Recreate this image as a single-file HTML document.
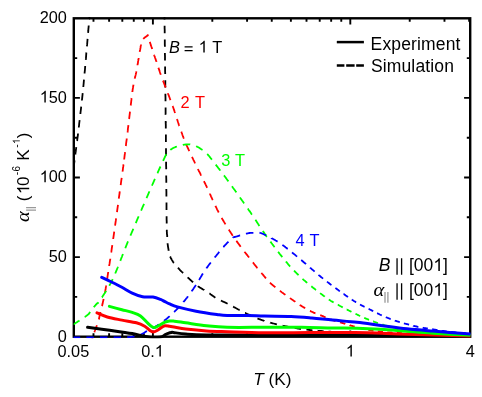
<!DOCTYPE html>
<html><head><meta charset="utf-8"><title>chart</title>
<style>html,body{margin:0;padding:0;background:#fff}svg{display:block;will-change:transform}text{font-family:"Liberation Sans",sans-serif;fill:#000}</style></head><body>
<svg width="482" height="397" viewBox="0 0 482 397">
<rect width="482" height="397" fill="#fff"/>
<defs><clipPath id="c"><rect x="73.6" y="17.1" width="396.8" height="321.2"/></clipPath></defs>
<rect x="73.80" y="18.30" width="396.40" height="318.40" fill="none" stroke="#000" stroke-width="2.40"/>
<path d="M73.80,296.90 h3.40 M470.20,296.90 h-3.40 M73.80,257.10 h6.10 M470.20,257.10 h-6.10 M73.80,217.30 h3.40 M470.20,217.30 h-3.40 M73.80,177.50 h6.10 M470.20,177.50 h-6.10 M73.80,137.70 h3.40 M470.20,137.70 h-3.40 M73.80,97.90 h6.10 M470.20,97.90 h-6.10 M73.80,58.10 h3.40 M470.20,58.10 h-3.40 M93.48,18.30 v3.40 M93.48,336.70 v-3.40 M109.11,18.30 v3.40 M109.11,336.70 v-3.40 M122.32,18.30 v3.40 M122.32,336.70 v-3.40 M133.77,18.30 v3.40 M133.77,336.70 v-3.40 M143.87,18.30 v3.40 M143.87,336.70 v-3.40 M152.90,18.30 v6.10 M152.90,336.70 v-6.10 M212.32,18.30 v3.40 M212.32,336.70 v-3.40 M247.08,18.30 v3.40 M247.08,336.70 v-3.40 M271.75,18.30 v3.40 M271.75,336.70 v-3.40 M290.88,18.30 v3.40 M290.88,336.70 v-3.40 M306.51,18.30 v3.40 M306.51,336.70 v-3.40 M319.72,18.30 v3.40 M319.72,336.70 v-3.40 M331.17,18.30 v3.40 M331.17,336.70 v-3.40 M341.27,18.30 v3.40 M341.27,336.70 v-3.40 M350.30,18.30 v6.10 M350.30,336.70 v-6.10 M409.72,18.30 v3.40 M409.72,336.70 v-3.40 M444.48,18.30 v3.40 M444.48,336.70 v-3.40 M469.15,18.30 v3.40 M469.15,336.70 v-3.40" stroke="#000" stroke-width="1.90" fill="none"/>
<g clip-path="url(#c)" fill="none" stroke-linejoin="round">
<path id="k_dash_l" d="M73.5,168.0L73.5,168.0L73.6,167.6L73.6,167.3L73.7,167.0L73.7,166.7L73.8,166.3L73.8,166.0L73.8,165.7L73.9,165.3L73.9,165.0L74.0,164.7L74.0,164.4L74.1,164.1L74.1,163.8L74.1,163.5L74.2,163.2L74.2,162.9L74.3,162.5L74.3,162.2L74.4,161.8L74.4,161.4L74.5,161.0L74.5,160.6 M75.3,154.5L75.4,153.8L75.5,152.8L75.7,151.9L75.8,150.9L75.9,149.8L76.1,148.8L76.2,147.7L76.3,147.1 M77.1,141.0L77.2,140.4L77.3,139.1L77.5,137.8L77.7,136.4L77.9,135.1L78.0,133.7L78.0,133.6 M78.8,127.5L78.9,126.5L79.1,125.0L79.2,123.5L79.4,122.0L79.6,120.5L79.7,120.1 M80.4,114.0L80.5,112.6L80.7,111.0L80.9,109.3L81.1,107.7L81.2,106.6 M81.9,100.5L82.1,98.8L82.3,96.9L82.5,95.0L82.7,93.1 M83.3,87.0L83.5,85.0L83.7,82.8L83.9,80.5L84.0,79.6 M84.6,73.4L84.6,72.9L84.9,70.2L85.1,67.5L85.2,66.0 M85.8,59.9L85.9,58.9L86.1,56.1L86.3,53.2L86.4,52.5 M86.9,46.3L87.1,44.9L87.3,42.3L87.5,39.7L87.6,38.9 M88.1,32.8L88.1,32.8L88.3,30.7L88.4,28.8L88.6,27.1L88.7,25.6L88.7,25.4 M89.2,19.2L89.3,19.1L89.3,18.7L89.3,18.3L89.3,18.0L89.4,17.8L89.4,17.6L89.4,17.5L89.4,17.4L89.4,17.4L89.4,17.3L89.4,17.3L89.4,17.4L89.4,17.4L89.4,17.3L89.4,17.3L89.4,17.3L89.4,17.2L89.4,17.0" stroke="#000" stroke-width="1.80"/>
<path id="k_dash_r" d="M164.5,17.0L164.5,17.7L164.5,18.5L164.5,19.4L164.5,19.6 M164.6,25.8L164.6,27.0L164.6,28.4L164.7,29.8L164.7,31.2L164.7,32.7L164.7,33.2 M164.8,39.4L164.8,40.8L164.8,42.6L164.8,44.4L164.9,46.2L164.9,46.8 M164.9,53.0L164.9,54.1L165.0,56.3L165.0,58.6L165.0,60.4 M165.1,66.6L165.1,68.4L165.1,71.0L165.2,73.6L165.2,74.0 M165.3,80.2L165.3,81.6L165.3,84.3L165.3,87.0L165.3,87.6 M165.4,93.8L165.4,95.1L165.5,97.7L165.5,100.3L165.5,101.2 M165.6,107.4L165.6,107.7L165.6,110.0L165.6,112.3L165.6,114.5L165.7,114.8 M165.7,121.0L165.7,122.9L165.8,124.9L165.8,126.9L165.8,128.4 M165.9,134.6L165.9,134.7L165.9,136.6L165.9,138.6L165.9,140.6L165.9,142.0 M166.0,148.2L166.0,148.8L166.0,150.9L166.0,153.1L166.1,155.3L166.1,155.6 M166.1,161.8L166.1,162.5L166.1,165.1L166.2,167.8L166.2,169.2 M166.2,175.4L166.2,176.5L166.3,179.5L166.3,182.6L166.3,182.8 M166.3,189.0L166.4,191.8L166.4,194.9L166.4,196.4 M166.5,202.6L166.5,203.9L166.5,206.8L166.5,209.5L166.5,210.0 M166.6,216.2L166.6,217.1L166.6,219.4L166.7,221.4L166.7,223.3L166.7,223.6 M166.8,229.8L166.8,230.0L166.8,230.9L166.8,231.7L166.9,232.3L166.9,232.9L166.9,233.3L166.9,233.7L166.9,234.0L167.0,234.2L167.0,234.4L167.0,234.5L167.0,234.6L167.1,234.7L167.1,234.8L167.1,234.9L167.1,235.0L167.1,235.1L167.1,235.3L167.2,235.5L167.2,235.8L167.2,236.1L167.2,236.5L167.2,236.8L167.2,237.1L167.2,237.1 M167.6,243.3L167.6,243.6L167.6,243.8L167.7,244.1L167.7,244.4L167.7,244.7L167.8,245.0L167.8,245.3L167.9,245.6L167.9,245.9L167.9,246.2L168.0,246.5L168.0,246.8L168.1,247.1L168.1,247.4L168.2,247.6L168.2,247.9L168.3,248.2L168.3,248.5L168.4,248.8L168.4,249.1L168.5,249.3L168.5,249.6L168.5,249.9L168.6,250.1L168.6,250.4L168.7,250.6L168.7,250.7 M170.1,256.6L170.1,256.6L170.3,256.9L170.4,257.2L170.5,257.4L170.7,257.7L170.8,258.0L170.9,258.3L171.1,258.5L171.2,258.8L171.4,259.1L171.5,259.3L171.7,259.6L171.9,259.8L172.0,260.1L172.2,260.4L172.3,260.6L172.5,260.9L172.6,261.1L172.8,261.3L172.9,261.6L173.1,261.8L173.2,262.0L173.4,262.2L173.5,262.4L173.7,262.7L173.8,262.9L173.9,263.0 M178.0,267.7L178.1,267.8L178.2,268.0L178.3,268.2L178.5,268.3L178.6,268.5L178.8,268.7L179.0,268.9L179.2,269.1L179.4,269.3L179.6,269.6L179.8,269.8L180.1,270.1L180.3,270.4L180.6,270.7L181.0,271.0L181.3,271.3L181.7,271.7L182.1,272.1L182.6,272.5L183.1,273.0L183.1,273.0 M187.6,277.3L187.8,277.5L188.5,278.1L189.2,278.7L189.8,279.4L190.5,280.0L191.2,280.6L191.8,281.2L192.5,281.8L193.1,282.3 M197.9,286.1L198.2,286.4L198.7,286.7L199.2,287.1L199.7,287.4L200.2,287.7L200.7,288.0L201.2,288.3L201.6,288.6L202.1,288.9L202.6,289.1L203.0,289.4L203.5,289.7L204.0,289.9L204.2,290.1 M209.4,293.4L209.6,293.5L210.0,293.8L210.4,294.1L210.7,294.4L211.1,294.7L211.5,294.9L211.9,295.2L212.3,295.5L212.6,295.8L213.0,296.0L213.4,296.3L213.8,296.6L214.2,296.8L214.5,297.1L214.9,297.4L215.3,297.6L215.4,297.7 M220.9,300.6L221.1,300.7L221.5,300.8L221.9,301.0L222.3,301.2L222.7,301.4L223.1,301.6L223.6,301.8L224.0,302.0L224.5,302.2L225.0,302.4L225.5,302.7L226.0,302.9L226.6,303.2L227.2,303.5L227.6,303.7 M233.1,306.6L233.7,306.9L234.5,307.4L235.3,307.8L236.2,308.3L237.0,308.7L237.9,309.2L238.7,309.6L239.5,310.1L239.6,310.1 M245.1,312.9L245.2,312.9L245.9,313.3L246.6,313.6L247.3,314.0L248.0,314.3L248.7,314.6L249.4,314.9L250.1,315.2L250.7,315.6L251.4,315.8L251.8,316.0 M257.5,318.4L257.9,318.6L258.6,318.8L259.3,319.1L260.0,319.3L260.7,319.6L261.4,319.8L262.1,320.1L262.8,320.3L263.6,320.6L264.3,320.8L264.4,320.9 M270.2,322.6L270.3,322.7L271.1,322.9L271.9,323.1L272.7,323.3L273.5,323.5L274.2,323.7L275.0,323.9L275.8,324.1L276.6,324.3L276.9,324.4 M282.6,325.7L283.2,325.8L284.0,326.0L284.9,326.2L285.7,326.4L286.6,326.5L287.5,326.7L288.3,326.9L289.1,327.0 M294.7,328.0L295.4,328.1L296.3,328.2L297.1,328.4L298.0,328.5L298.9,328.6L299.8,328.8L300.6,328.9L301.0,328.9 M306.4,329.6L306.5,329.6L307.3,329.7L308.1,329.8L308.9,329.9L309.7,330.0L310.5,330.1L311.3,330.2L312.2,330.3L312.5,330.3 M317.6,330.7L318.3,330.8L319.2,330.9L320.2,330.9L321.2,331.0L322.2,331.1L323.2,331.2L323.6,331.2 M328.5,331.6L329.4,331.6L330.5,331.7L331.5,331.8L332.6,331.8L333.7,331.9L334.2,331.9 M338.9,332.2L339.6,332.2L340.9,332.3L342.2,332.4L343.5,332.5L344.4,332.5 M349.0,332.7L349.4,332.7L351.0,332.8L352.6,332.9L354.2,332.9 M358.6,333.1L359.5,333.2L361.3,333.2L363.2,333.3L363.8,333.3 M368.2,333.5L368.9,333.5L370.8,333.6L372.9,333.7L373.4,333.7 M377.8,333.8L379.1,333.9L381.3,333.9L383.0,334.0 M387.4,334.1L388.0,334.2L390.3,334.2L392.6,334.3 M397.0,334.4L397.5,334.4L400.0,334.5L402.2,334.6 M406.6,334.7L408.3,334.7L411.4,334.8L411.8,334.8 M416.2,334.9L417.9,334.9L421.2,335.0L421.4,335.0 M425.8,335.1L428.1,335.1L431.0,335.2 M435.4,335.3L438.6,335.4L440.6,335.4 M445.0,335.5L445.3,335.5L448.6,335.6L450.2,335.6 M454.6,335.7L454.8,335.7L457.7,335.7L459.8,335.8 M464.2,335.9L465.4,335.9L467.5,335.9L469.4,336.0L469.4,336.0" stroke="#000" stroke-width="1.80"/>
<path id="r_dash" d="M92.3,339.0L92.3,338.9L92.4,338.7L92.4,338.5L92.5,338.3L92.6,338.1 M94.3,332.2L94.4,332.1L94.5,331.8L94.5,331.6L94.6,331.3L94.7,331.1L94.8,330.8L94.9,330.6L95.0,330.4L95.1,330.1L95.2,329.9L95.3,329.6L95.4,329.4L95.5,329.1L95.6,328.9L95.6,328.6L95.7,328.4L95.8,328.1L95.9,327.9L96.0,327.6L96.1,327.4L96.2,327.1L96.3,326.9L96.4,326.6L96.5,326.3L96.6,326.1L96.7,325.8L96.8,325.5L96.9,325.2L96.9,325.2 M98.8,319.3L98.9,319.2L98.9,319.0L99.0,318.7L99.1,318.4L99.1,318.1L99.2,317.8L99.2,317.5L99.3,317.2L99.4,317.0L99.4,316.7L99.5,316.4L99.5,316.1L99.6,315.8L99.7,315.6L99.7,315.3L99.8,315.0L99.8,314.7L99.9,314.4L99.9,314.1L100.0,313.9L100.1,313.6L100.1,313.3L100.2,313.0L100.3,312.7L100.3,312.4L100.4,312.2L100.4,312.1 M102.0,306.1L102.1,305.9L102.2,305.5L102.2,305.2L102.3,304.8L102.4,304.4L102.5,304.1L102.6,303.7L102.7,303.3L102.8,302.9L102.8,302.5L102.9,302.1L103.0,301.7L103.1,301.3L103.2,300.9L103.3,300.5L103.4,300.1L103.4,299.8L103.5,299.4L103.6,299.0L103.6,298.9 M105.0,292.9L105.0,292.8L105.1,292.0L105.3,291.1L105.4,290.1L105.6,289.0L105.8,287.7L106.0,286.4L106.1,285.5 M107.1,279.4L107.3,278.1L107.6,276.2L107.9,274.2L108.2,272.2L108.2,272.1 M109.2,266.0L109.2,265.7L109.6,263.4L109.9,261.1L110.3,258.8L110.3,258.7 M111.2,252.5L111.4,251.4L111.7,249.0L112.1,246.4L112.3,245.2 M113.2,239.1L113.2,238.8L113.6,236.2L114.0,233.3L114.2,231.7 M115.1,225.6L115.3,224.0L115.8,220.7L116.1,218.3 M117.0,212.1L117.2,210.4L117.7,206.9L118.0,204.8 M118.8,198.7L119.1,196.4L119.6,193.0L119.8,191.3 M120.7,185.2L120.9,183.4L121.3,180.4L121.7,177.9 M122.5,171.7L122.8,170.1L123.0,168.0L123.3,166.2L123.5,164.6L123.6,164.4 M124.2,159.5L124.2,159.3L124.2,158.9L124.3,158.3L124.4,157.6L124.5,156.7L124.6,155.8L124.7,154.8L124.9,153.7L125.0,152.6L125.1,152.1 M125.8,146.0L126.0,145.0L126.1,143.6L126.3,142.2L126.5,140.7L126.7,139.3L126.7,138.6 M127.5,132.5L127.6,131.9L127.8,130.4L127.9,128.9L128.1,127.4L128.3,126.0L128.4,125.2 M129.1,119.0L129.2,118.3L129.4,116.6L129.6,115.0L129.8,113.3L130.0,111.6 M130.7,105.5L130.8,104.8L131.0,103.2L131.2,101.5L131.4,99.9L131.5,98.3L131.6,98.1 M132.4,92.0L132.5,91.2L132.6,90.0L132.8,88.8L133.0,87.7L133.1,86.7L133.3,85.7L133.5,84.8L133.5,84.7 M134.7,78.6L134.8,78.2L135.0,77.6L135.1,77.0L135.3,76.4L135.4,75.9L135.5,75.3L135.7,74.7L135.8,74.2L135.9,73.6L136.1,73.0L136.2,72.4L136.3,71.8L136.4,71.4 M137.5,65.3L137.5,65.1L137.6,64.5L137.7,64.0L137.8,63.5L137.9,63.0L138.0,62.5L138.0,61.9L138.1,61.4L138.2,60.9L138.3,60.3L138.4,59.8L138.5,59.3L138.6,58.7L138.7,58.1L138.7,58.0 M139.7,51.9L139.8,51.3L139.9,50.6L140.1,50.0L140.2,49.4L140.3,48.8L140.4,48.2L140.5,47.7L140.6,47.1L140.6,46.6L140.7,46.1L140.8,45.7L140.9,45.2L141.0,44.8L141.0,44.6 M143.2,38.9L143.3,38.8L143.5,38.6L143.7,38.4L144.0,38.2L144.2,38.0L144.4,37.8L144.7,37.6L144.9,37.4L145.2,37.2L145.5,37.0L145.7,36.9L145.9,36.7L146.2,36.5L146.4,36.4L146.6,36.2L146.8,36.1L147.0,35.9L147.2,35.8L147.3,35.7L147.5,35.6L147.6,35.5L147.7,35.4L147.8,35.3L147.8,35.3L147.9,35.2L147.9,35.2L147.9,35.1L147.9,35.1L147.9,35.1L147.9,35.1L147.9,35.1L147.9,35.1L147.8,35.1L147.8,35.1L147.8,35.1L147.7,35.1L147.7,35.1L147.7,35.2L147.6,35.2L147.6,35.2L147.6,35.3L147.6,35.3L147.6,35.4L147.6,35.4L147.6,35.5L147.6,35.6L147.7,35.6L147.7,35.7L147.7,35.8L147.8,35.9L147.8,36.0L147.8,36.1 M149.8,41.9L149.9,42.1L150.0,42.3L150.0,42.6L150.1,42.8L150.2,43.1L150.3,43.4L150.4,43.6L150.5,43.9L150.6,44.2L150.7,44.5L150.8,44.8L150.8,45.1L150.9,45.4L151.0,45.7L151.2,46.0L151.3,46.3L151.4,46.6L151.5,47.0L151.6,47.3L151.7,47.6L151.8,48.0L152.0,48.4L152.1,48.7L152.2,49.0 M154.1,54.8L154.2,55.2L154.4,55.8L154.6,56.3L154.8,56.9L155.0,57.5L155.2,58.0L155.4,58.6L155.6,59.2L155.8,59.8L156.0,60.4L156.2,60.9L156.4,61.5L156.5,61.9 M158.4,67.7L158.5,68.1L158.7,68.6L158.9,69.1L159.1,69.7L159.3,70.2L159.4,70.7L159.6,71.2L159.8,71.8L160.0,72.3L160.1,72.8L160.3,73.4L160.5,73.9L160.7,74.4L160.8,74.8 M162.9,80.6L163.1,80.8L163.2,81.3L163.4,81.7L163.6,82.2L163.8,82.7L164.0,83.1L164.2,83.6L164.4,84.1L164.5,84.6L164.7,85.1L165.0,85.6L165.2,86.2L165.4,86.7L165.6,87.3L165.7,87.5 M167.9,93.2L167.9,93.3L168.2,94.1L168.5,94.8L168.8,95.6L169.1,96.4L169.4,97.2L169.7,98.0L170.0,98.9L170.3,99.7L170.5,100.2 M172.6,106.0L172.7,106.2L173.0,107.0L173.3,107.8L173.6,108.6L173.8,109.4L174.1,110.2L174.4,110.9L174.6,111.7L174.9,112.5L175.1,113.0 M177.0,118.9L177.2,119.6L177.5,120.4L177.7,121.2L178.0,122.0L178.2,122.7L178.5,123.5L178.7,124.3L179.0,125.0L179.2,125.8L179.3,125.9 M181.3,131.7L181.5,132.1L181.7,132.8L182.0,133.4L182.2,134.1L182.4,134.8L182.7,135.5L182.9,136.1L183.2,136.8L183.4,137.5L183.7,138.2L183.9,138.7 M186.3,144.4L186.3,144.6L186.7,145.3L187.0,146.1L187.3,146.8L187.6,147.5L188.0,148.3L188.3,149.0L188.7,149.8L189.0,150.5L189.3,151.2 M192.0,156.8L192.0,156.8L192.4,157.7L192.8,158.5L193.2,159.4L193.6,160.2L194.1,161.1L194.5,162.0L194.9,162.9L195.2,163.4 M197.9,169.0L198.2,169.7L198.7,170.7L199.3,171.7L199.8,172.7L200.3,173.7L200.8,174.8L201.2,175.6 M204.0,181.2L204.4,182.2L205.0,183.2L205.5,184.3L206.0,185.3L206.5,186.4L207.0,187.5L207.2,187.8 M209.8,193.5L210.0,194.0L210.5,195.1L211.0,196.3L211.5,197.4L212.0,198.5L212.5,199.6L212.8,200.2 M215.4,205.8L215.6,206.3L216.2,207.4L216.7,208.5L217.2,209.6L217.8,210.7L218.3,211.7L218.7,212.5 M221.7,217.9L221.7,217.9L222.3,219.0L222.9,220.0L223.5,221.0L224.0,221.9L224.6,222.9L225.2,223.9L225.4,224.3 M228.7,229.6L228.9,229.8L229.5,230.8L230.2,231.8L230.8,232.8L231.5,233.8L232.1,234.8L232.8,235.7 M236.3,240.8L236.5,241.0L237.3,242.1L238.1,243.2L238.9,244.3L239.7,245.4L240.5,246.5L240.7,246.8 M244.5,251.7L244.7,252.0L245.5,253.0L246.4,254.1L247.2,255.1L247.9,256.1L248.7,257.0L249.1,257.5 M252.9,262.4L253.3,262.9L253.8,263.6L254.3,264.3L254.8,264.9L255.3,265.5L255.8,266.1L256.3,266.7L256.7,267.2L257.1,267.8L257.5,268.1 M261.4,272.9L261.4,272.9L261.7,273.3L262.1,273.8L262.5,274.2L262.9,274.6L263.2,275.1L263.6,275.5L263.9,275.9L264.3,276.3L264.6,276.7L264.9,277.1L265.2,277.5L265.5,277.8L265.8,278.2L266.0,278.4 M270.0,282.7L270.4,283.1L270.8,283.5L271.2,283.8L271.6,284.2L272.0,284.5L272.4,284.9L272.8,285.2L273.2,285.6L273.7,285.9L274.1,286.3L274.5,286.6L275.0,287.0L275.3,287.3 M279.9,290.8L280.3,291.1L280.7,291.4L281.1,291.7L281.6,292.1L282.0,292.4L282.4,292.7L282.9,293.0L283.3,293.3L283.7,293.7L284.2,294.0L284.6,294.3L285.0,294.6L285.4,294.9 M290.0,298.1L290.2,298.3L290.7,298.6L291.1,298.9L291.5,299.2L292.0,299.5L292.4,299.8L292.8,300.1L293.3,300.4L293.7,300.7L294.1,301.0L294.6,301.3L295.0,301.6L295.3,301.9 M299.8,304.9L300.2,305.2L300.6,305.5L301.1,305.7L301.5,306.0L301.9,306.3L302.4,306.5L302.8,306.8L303.2,307.1L303.7,307.3L304.1,307.6L304.5,307.8L305.0,308.1L305.2,308.2 M309.9,310.8L310.2,310.9L310.6,311.2L311.0,311.4L311.5,311.6L311.9,311.8L312.3,312.0L312.8,312.2L313.2,312.4L313.6,312.6L314.1,312.8L314.5,312.9L314.9,313.1L315.3,313.3L315.4,313.3 M320.2,315.1L320.5,315.2L320.9,315.4L321.3,315.6L321.8,315.7L322.2,315.9L322.6,316.1L323.1,316.2L323.5,316.4L323.9,316.6L324.4,316.8L324.8,317.0L325.2,317.2L325.6,317.3 M330.2,319.2L330.4,319.3L330.9,319.5L331.3,319.6L331.7,319.8L332.2,319.9L332.6,320.1L333.0,320.3L333.5,320.4L333.9,320.5L334.3,320.7L334.8,320.8L335.2,321.0L335.5,321.1 M340.1,322.4L340.4,322.5L340.8,322.6L341.3,322.7L341.7,322.8L342.1,322.9L342.6,323.1L343.0,323.2L343.4,323.3L343.9,323.5L344.3,323.6L344.7,323.7L345.1,323.8L345.3,323.9 M349.7,325.2L349.8,325.3L350.2,325.4L350.7,325.5L351.1,325.7L351.6,325.8L352.0,325.9L352.5,326.0L352.9,326.2L353.4,326.3L353.9,326.4L354.3,326.6L354.7,326.7 M358.9,327.8L359.1,327.9L359.6,328.0L360.1,328.1L360.6,328.2L361.1,328.4L361.7,328.5L362.2,328.6L362.7,328.7L363.2,328.8L363.8,329.0L364.0,329.0 M368.3,329.8L368.7,329.9L369.3,330.0L369.9,330.1L370.4,330.2L371.0,330.3L371.6,330.4L372.2,330.5L372.8,330.6L373.4,330.7L373.5,330.7 M377.8,331.3L377.9,331.3L378.6,331.3L379.3,331.4L380.0,331.5L380.7,331.6L381.3,331.6L381.9,331.7L382.4,331.8L382.9,331.8L383.0,331.8 M387.3,332.3L387.8,332.3L388.5,332.4L389.4,332.4L390.3,332.5L391.3,332.5L392.4,332.6L392.6,332.6 M396.9,332.8L398.2,332.9L400.0,333.0L402.0,333.1L402.1,333.1 M406.5,333.3L406.9,333.3L409.7,333.4L411.7,333.5 M416.1,333.7L419.1,333.9L421.3,333.9 M425.7,334.1L426.0,334.1L429.6,334.3L430.9,334.4 M435.3,334.5L436.8,334.6L440.3,334.7L440.5,334.7 M444.9,334.9L447.3,335.0L450.1,335.1 M454.5,335.3L457.0,335.4L459.7,335.5 M464.1,335.7L465.2,335.8L467.4,335.9L469.3,335.9" stroke="#ff0000" stroke-width="1.80"/>
<path id="g_dash" d="M73.3,324.5L73.5,324.4L73.8,324.2L74.1,324.0L74.5,323.7L75.0,323.4L75.5,323.1L76.0,322.7L76.6,322.4L77.2,322.0L77.9,321.5L78.5,321.1L79.2,320.7L79.5,320.5 M84.6,317.0L85.2,316.7L85.8,316.3L86.3,315.9L86.8,315.5L87.2,315.2L87.6,314.9L87.9,314.6L88.2,314.4L88.5,314.2L88.7,313.9L88.9,313.7L89.1,313.6L89.2,313.4L89.3,313.2L89.4,313.1L89.5,312.9L89.6,312.8L89.6,312.7L89.7,312.5L89.7,312.4L89.8,312.3L89.8,312.1L89.9,312.0 M93.7,307.2L93.9,307.0L94.2,306.6L94.5,306.3L94.8,306.0L95.1,305.6L95.4,305.3L95.7,305.0L95.9,304.7L96.2,304.4L96.4,304.2L96.6,303.9L96.8,303.7L97.0,303.5L97.2,303.3L97.3,303.2L97.4,303.1L97.4,303.1L97.5,303.1L97.5,303.1L97.6,303.1L97.6,303.2L97.6,303.2L97.6,303.3L97.6,303.3L97.5,303.4L97.6,303.4L97.6,303.4L97.6,303.4L97.6,303.4L97.7,303.3L97.8,303.2L97.9,303.0L98.1,302.8L98.2,302.6L98.4,302.3 M101.9,297.2L102.0,297.2L102.5,296.4L103.0,295.7L103.6,294.9L104.1,294.0L104.7,293.2L105.3,292.2L106.0,291.3L106.1,291.0 M109.3,285.7L109.8,284.8L110.5,283.6L111.2,282.3L111.8,281.0L112.5,279.6L112.7,279.2 M115.2,273.5L115.7,272.3L116.4,270.7L117.0,269.1L117.7,267.5L118.0,266.7 M120.3,260.9L120.4,260.6L121.1,258.7L121.9,256.8L122.6,254.9L123.0,254.0 M125.3,248.2L125.9,246.6L126.8,244.4L127.7,242.1L128.0,241.4 M130.4,235.6L130.7,235.0L131.8,232.4L133.0,229.7L133.3,228.8 M135.8,223.1L136.9,220.4L138.3,217.1L138.7,216.3 M141.1,210.6L141.3,210.2L142.8,206.7L144.1,203.8 M146.5,198.2L147.5,195.9L149.0,192.4L149.5,191.4 M151.9,185.7L152.0,185.5L153.5,182.1L154.9,178.9L154.9,178.9 M157.4,173.2L157.6,172.9L158.8,170.1L160.0,167.5L160.5,166.5 M163.1,160.9L163.8,159.3L164.5,157.8L165.1,156.5L165.7,155.4L166.2,154.4L166.3,154.2 M170.3,149.9L170.4,149.8L170.8,149.6L171.2,149.3L171.7,149.0L172.2,148.6L172.7,148.3L173.3,148.0L173.9,147.7L174.5,147.5L175.1,147.2L175.7,146.9L176.4,146.7L176.9,146.5 M182.8,145.0L182.8,145.0L183.4,144.8L184.0,144.7L184.6,144.7L185.2,144.6L185.7,144.5L186.2,144.4L186.7,144.4L187.2,144.4L187.7,144.3L188.1,144.3L188.6,144.3L189.0,144.4L189.5,144.4L189.9,144.4L190.2,144.5 M196.1,146.2L196.5,146.4L197.0,146.6L197.4,146.8L197.9,147.0L198.3,147.3L198.7,147.5L199.2,147.8L199.6,148.1L200.1,148.4L200.5,148.7L201.0,149.0L201.4,149.3L201.9,149.6L202.3,149.9L202.5,150.0 M207.2,154.0L207.3,154.1L207.6,154.5L208.0,154.8L208.3,155.2L208.6,155.6L209.0,155.9L209.3,156.3L209.6,156.7L209.9,157.1L210.2,157.5L210.5,157.9L210.8,158.3L211.2,158.7L211.5,159.1L211.8,159.6L211.9,159.7 M215.7,164.6L216.1,165.1L216.5,165.7L217.0,166.3L217.4,166.8L217.9,167.4L218.3,168.0L218.8,168.6L219.3,169.2L219.7,169.8L220.2,170.4L220.2,170.5 M224.0,175.4L224.0,175.4L224.6,176.2L225.2,177.0L225.9,177.9L226.5,178.8L227.2,179.7L227.9,180.7L228.4,181.3 M232.0,186.3L232.8,187.5L233.7,188.7L234.7,190.0L235.6,191.3L236.4,192.4 M240.0,197.4L240.3,197.9L241.2,199.2L242.1,200.5L243.0,201.7L243.9,203.0L244.2,203.4 M247.8,208.5L248.0,208.8L248.7,209.9L249.4,210.9L250.2,211.9L250.9,213.0L251.5,214.0L252.0,214.6 M255.4,219.8L255.4,219.8L256.1,220.8L256.7,221.7L257.2,222.6L257.8,223.5L258.4,224.3L258.9,225.2L259.4,225.9 M262.8,230.9L263.0,231.2L263.4,231.8L263.8,232.4L264.2,232.9L264.5,233.5L264.9,234.0L265.2,234.4L265.5,234.9L265.8,235.3L266.1,235.8L266.4,236.2L266.7,236.6L266.9,236.8 M270.4,241.6L270.4,241.6L270.8,242.1L271.2,242.6L271.6,243.2L272.0,243.7L272.4,244.3L272.8,244.8L273.2,245.4L273.7,246.0L274.1,246.5L274.5,247.1L274.6,247.2 M278.1,251.8L278.5,252.3L278.9,252.9L279.4,253.4L279.8,254.0L280.3,254.6L280.7,255.1L281.1,255.6L281.6,256.2L282.0,256.7L282.3,257.1 M285.9,261.5L286.3,262.0L286.8,262.5L287.2,263.0L287.6,263.6L288.1,264.1L288.5,264.6L288.9,265.1L289.4,265.6L289.8,266.1L290.2,266.5L290.2,266.5 M294.0,270.6L294.1,270.7L294.5,271.1L294.9,271.5L295.3,272.0L295.8,272.4L296.2,272.8L296.6,273.2L297.0,273.7L297.5,274.1L297.9,274.5L298.3,274.9L298.6,275.2 M302.5,278.8L302.9,279.2L303.4,279.6L303.9,280.1L304.4,280.5L304.9,280.9L305.4,281.3L305.9,281.8L306.4,282.2L306.9,282.6L307.3,282.9 M311.3,286.2L311.7,286.5L312.2,287.0L312.8,287.4L313.3,287.9L313.9,288.3L314.5,288.8L315.1,289.2L315.6,289.7L316.1,290.0 M320.1,293.1L320.7,293.6L321.3,294.1L322.0,294.6L322.6,295.0L323.2,295.5L323.9,296.0L324.5,296.4L324.8,296.7 M328.8,299.5L329.0,299.6L329.5,300.0L330.0,300.3L330.5,300.6L330.9,300.9L331.4,301.2L331.8,301.4L332.2,301.7L332.7,301.9L333.1,302.2L333.5,302.4L333.6,302.5 M337.8,304.8L338.0,304.8L338.4,305.1L338.8,305.3L339.2,305.5L339.7,305.8L340.1,306.0L340.6,306.3L341.0,306.5L341.5,306.7L341.9,307.0L342.4,307.2L342.7,307.4 M346.7,309.5L346.8,309.5L347.2,309.7L347.6,309.9L348.0,310.1L348.4,310.3L348.8,310.5L349.2,310.7L349.6,310.9L349.9,311.1L350.3,311.2L350.6,311.4L350.9,311.6L351.3,311.7L351.5,311.8 M355.5,313.8L355.5,313.8L355.9,314.0L356.2,314.1L356.6,314.3L357.0,314.5L357.4,314.7L357.8,314.9L358.2,315.1L358.6,315.3L359.1,315.5L359.5,315.7L359.9,315.9L360.2,316.0 M364.2,317.8L364.6,318.0L365.0,318.2L365.5,318.4L366.0,318.6L366.5,318.8L367.0,319.0L367.5,319.2L368.0,319.4L368.5,319.6L369.0,319.8 M373.1,321.4L373.2,321.4L373.8,321.6L374.3,321.8L374.9,322.0L375.4,322.2L376.0,322.4L376.5,322.6L377.1,322.8L377.6,323.0L378.0,323.1 M382.2,324.5L382.4,324.6L382.9,324.7L383.4,324.9L383.8,325.0L384.3,325.2L384.7,325.3L385.2,325.5L385.6,325.6L386.1,325.7L386.6,325.9L387.1,326.0L387.2,326.0 M391.4,327.0L391.6,327.1L392.4,327.2L393.1,327.4L393.9,327.5L394.7,327.6L395.5,327.8L396.4,327.9L396.6,328.0 M400.9,328.7L401.6,328.8L402.6,328.9L403.6,329.1L404.6,329.2L405.6,329.4L406.0,329.4 M410.4,330.0L411.4,330.1L412.7,330.2L414.1,330.4L415.5,330.5L415.6,330.6 M419.9,331.0L420.0,331.0L421.7,331.2L423.5,331.3L425.1,331.5 M429.5,331.8L429.9,331.9L432.2,332.1L434.6,332.3L434.7,332.3 M439.1,332.6L439.5,332.6L442.1,332.8L444.3,333.0 M448.6,333.3L449.6,333.4L452.1,333.6L453.8,333.7 M458.2,334.0L459.1,334.1L461.3,334.3L463.3,334.4L463.4,334.4 M467.8,334.8L468.5,334.8L469.8,334.9L471.0,335.0" stroke="#00ff00" stroke-width="1.80"/>
<path id="b_dash" d="M72.8,337.3L73.1,337.3L73.8,337.3L74.6,337.3L75.5,337.3L76.4,337.3L77.4,337.3L78.5,337.3L79.6,337.3L80.2,337.3 M86.4,337.3L87.1,337.3L88.4,337.3L89.8,337.3L91.1,337.3L92.4,337.3L93.8,337.3L93.8,337.3 M100.0,337.3L101.2,337.3L102.4,337.3L103.6,337.3L104.8,337.3L106.1,337.3L107.3,337.3L107.4,337.3 M113.6,337.4L113.7,337.4L114.9,337.4L116.2,337.4L117.4,337.4L118.6,337.4L119.8,337.4L121.0,337.4L121.0,337.4 M127.2,337.2L128.0,337.2L128.8,337.1L129.6,337.1L130.3,337.0L131.0,336.9L131.7,336.8L132.4,336.7L133.0,336.7L133.5,336.6L134.1,336.5L134.5,336.4 M140.5,334.6L140.5,334.6L140.9,334.5L141.3,334.3L141.6,334.2L141.9,334.1L142.2,333.9L142.5,333.8L142.8,333.6L143.1,333.5L143.4,333.3L143.6,333.2L143.9,333.0L144.1,332.9L144.3,332.7L144.6,332.5L144.8,332.4L145.0,332.2L145.2,332.1L145.5,331.9L145.7,331.8L146.0,331.6L146.2,331.5L146.5,331.3L146.7,331.1L146.9,331.0 M152.5,328.4L152.6,328.3L152.9,328.1L153.3,327.9L153.6,327.7L154.0,327.5L154.4,327.3L154.8,327.0L155.2,326.8L155.6,326.5L156.0,326.2L156.5,326.0L156.9,325.7L157.4,325.4L157.9,325.1L158.3,324.8L158.8,324.5L158.8,324.5 M163.9,320.9L164.1,320.8L164.5,320.4L165.0,320.1L165.4,319.7L165.9,319.4L166.3,319.0L166.8,318.7L167.2,318.3L167.6,317.9L168.1,317.6L168.5,317.2L168.9,316.8L169.4,316.4L169.6,316.2 M174.1,312.0L174.5,311.6L175.0,311.1L175.4,310.7L175.8,310.3L176.3,309.8L176.7,309.4L177.1,309.0L177.6,308.5L178.0,308.1L178.4,307.6L178.8,307.2L179.3,306.7L179.3,306.7 M183.4,302.1L183.5,301.9L184.0,301.4L184.4,300.9L184.8,300.4L185.3,299.8L185.7,299.3L186.1,298.8L186.6,298.2L187.0,297.7L187.4,297.1L187.9,296.5L188.0,296.3 M191.7,291.3L191.8,291.1L192.2,290.5L192.6,289.9L193.1,289.3L193.5,288.6L193.9,288.0L194.4,287.4L194.8,286.7L195.2,286.1L195.7,285.4L195.9,285.1 M199.1,279.9L199.3,279.6L199.7,278.9L200.1,278.2L200.5,277.6L200.9,276.9L201.3,276.2L201.7,275.5L202.1,274.8L202.6,274.1L202.9,273.5 M206.4,268.4L206.5,268.2L207.1,267.4L207.7,266.6L208.3,265.7L209.0,264.8L209.7,263.9L210.4,263.0L210.8,262.5 M214.7,257.6L214.9,257.3L215.6,256.4L216.4,255.5L217.1,254.5L217.9,253.6L218.6,252.7L219.3,251.9L219.3,251.9 M223.3,247.1L223.6,246.8L224.1,246.2L224.6,245.6L225.1,245.1L225.6,244.6L226.1,244.1L226.5,243.6L226.9,243.2L227.3,242.8L227.8,242.4L228.1,242.0L228.4,241.7 M233.1,237.7L233.1,237.6L233.3,237.5L233.5,237.4L233.6,237.3L233.8,237.2L233.9,237.1L234.0,237.1L234.1,237.0L234.3,237.0L234.4,237.0L234.5,237.0L234.6,236.9L234.7,236.9L234.9,236.9L235.0,236.9L235.2,236.9L235.3,236.8L235.5,236.8L235.8,236.7L236.0,236.7L236.3,236.6L236.6,236.5L236.9,236.4L237.3,236.3L237.7,236.2L238.1,236.0L238.6,235.9L239.0,235.7L239.5,235.6L240.0,235.4L240.1,235.4 M246.0,233.8L246.3,233.7L246.7,233.6L247.2,233.5L247.6,233.4L248.0,233.3L248.4,233.2L248.7,233.2L249.1,233.1L249.4,233.0L249.7,233.0L250.0,233.0L250.3,232.9L250.6,232.9L250.9,232.9L251.2,232.8L251.5,232.8L251.7,232.8L252.0,232.8L252.3,232.8L252.5,232.8L252.8,232.8L253.1,232.8L253.3,232.8L253.4,232.8 M259.5,232.7L259.9,232.8L260.2,232.9L260.6,233.0L261.0,233.1L261.5,233.3L262.0,233.5L262.5,233.7L263.1,233.9L263.6,234.2L264.2,234.5L264.9,234.8L265.5,235.1L266.2,235.4 M271.6,238.1L271.6,238.2L272.4,238.6L273.2,239.1L274.0,239.5L274.9,240.0L275.7,240.5L276.6,241.0L277.4,241.5L277.6,241.6 M282.4,244.9L283.2,245.5L284.0,246.1L284.9,246.7L285.7,247.4L286.6,248.0L287.4,248.7L287.7,248.9 M292.1,252.4L292.7,253.0L293.6,253.7L294.5,254.4L295.4,255.2L296.2,255.9L297.1,256.6 M301.2,260.1L301.5,260.3L302.4,261.0L303.2,261.7L304.1,262.5L305.0,263.2L305.8,263.9L306.0,264.1 M310.0,267.6L310.1,267.7L311.0,268.4L311.8,269.2L312.7,269.9L313.6,270.7L314.4,271.4L314.6,271.6 M318.5,274.9L318.7,275.1L319.6,275.8L320.5,276.5L321.3,277.2L322.2,277.9L323.1,278.6L323.1,278.6 M327.0,281.6L327.6,282.1L328.5,282.8L329.4,283.5L330.3,284.2L331.2,284.9L331.5,285.1 M335.4,288.0L335.7,288.2L336.6,288.8L337.4,289.5L338.3,290.1L339.1,290.7L339.9,291.2 M343.6,294.0L343.7,294.0L344.4,294.5L345.1,295.0L345.8,295.5L346.4,295.9L347.0,296.4L347.7,296.8L348.0,297.0 M351.8,299.5L352.3,299.9L352.8,300.2L353.3,300.5L353.9,300.9L354.4,301.2L354.9,301.5L355.4,301.9L356.0,302.2L356.2,302.3 M360.0,304.5L360.4,304.7L360.8,304.9L361.3,305.2L361.7,305.4L362.1,305.6L362.6,305.8L363.0,306.0L363.4,306.3L363.9,306.5L364.3,306.7L364.6,306.8 M368.6,308.8L369.0,309.0L369.5,309.3L370.0,309.6L370.6,309.8L371.1,310.1L371.6,310.4L372.2,310.7L372.7,310.9L373.2,311.2 M377.1,313.2L377.6,313.4L378.2,313.7L378.7,314.0L379.3,314.2L379.8,314.5L380.4,314.8L380.9,315.0L381.4,315.2L381.8,315.4 M385.8,317.1L386.3,317.3L386.9,317.5L387.4,317.8L387.9,318.0L388.5,318.2L389.0,318.4L389.6,318.6L390.1,318.8L390.6,319.0L390.7,319.0 M394.8,320.5L395.0,320.6L395.5,320.8L396.1,320.9L396.6,321.1L397.2,321.3L397.7,321.5L398.2,321.6L398.8,321.8L399.3,322.0L399.8,322.1 M404.0,323.3L404.2,323.4L404.7,323.5L405.3,323.7L405.8,323.8L406.4,324.0L406.9,324.1L407.4,324.2L408.0,324.4L408.5,324.5L409.1,324.7L409.1,324.7 M413.3,325.7L413.4,325.8L413.9,325.9L414.4,326.0L415.0,326.1L415.5,326.3L416.0,326.4L416.6,326.5L417.1,326.6L417.6,326.8L418.2,326.9L418.4,326.9 M422.7,327.7L423.0,327.8L423.6,327.9L424.1,328.0L424.7,328.1L425.2,328.2L425.8,328.2L426.3,328.3L426.8,328.4L427.4,328.5L427.8,328.6 M432.2,329.2L432.3,329.2L432.8,329.3L433.3,329.4L433.8,329.5L434.3,329.6L434.8,329.6L435.3,329.7L435.8,329.8L436.2,329.9L436.7,330.0L437.1,330.0L437.3,330.1 M441.6,330.8L441.7,330.8L442.3,330.9L442.9,330.9L443.6,331.0L444.3,331.1L445.0,331.2L445.8,331.3L446.6,331.4L446.8,331.4 M451.2,331.9L451.8,331.9L453.0,332.1L454.2,332.2L455.5,332.3L456.4,332.4 M460.7,332.8L461.7,332.9L462.9,333.0L464.0,333.1L465.1,333.2L465.9,333.3 M470.3,333.7L470.4,333.7L471.0,333.8" stroke="#0000ff" stroke-width="1.80"/>
<path id="k_sol" d="M87.60,327.30 C91.58,327.83 104.07,329.45 111.50,330.50 C118.93,331.55 127.02,332.68 132.20,333.60 C137.38,334.52 139.63,335.40 142.60,336.00 C145.57,336.60 147.10,337.00 150.00,337.20 C152.90,337.40 157.80,337.40 160.00,337.20 C162.20,337.00 162.30,336.43 163.20,336.00 C164.10,335.57 164.58,335.05 165.40,334.60 C166.22,334.15 167.08,333.67 168.10,333.30 C169.12,332.93 170.63,332.53 171.50,332.40 C172.37,332.27 170.93,332.23 173.30,332.50 C175.67,332.77 180.17,333.60 185.70,334.00 C191.23,334.40 194.12,334.73 206.50,334.90 C218.88,335.07 215.92,334.82 260.00,335.00 C304.08,335.18 435.83,335.83 471.00,336.00" stroke="#000" stroke-width="3.00" stroke-linecap="round"/>
<path id="r_sol" d="M97.00,312.80 C98.72,313.50 103.15,315.78 107.30,317.00 C111.45,318.22 117.05,319.13 121.90,320.10 C126.75,321.07 132.60,321.77 136.40,322.80 C140.20,323.83 142.45,325.02 144.70,326.30 C146.95,327.58 148.48,329.55 149.90,330.50 C151.32,331.45 152.00,332.00 153.20,332.00 C154.40,332.00 155.58,331.35 157.10,330.50 C158.62,329.65 160.98,327.70 162.30,326.90 C163.62,326.10 163.78,325.80 165.00,325.70 C166.22,325.60 167.87,326.03 169.60,326.30 C171.33,326.57 172.72,326.85 175.40,327.30 C178.08,327.75 180.52,328.40 185.70,329.00 C190.88,329.60 199.58,330.45 206.50,330.90 C213.42,331.35 217.52,331.40 227.20,331.70 C236.88,332.00 250.80,332.55 264.60,332.70 C278.40,332.85 294.93,332.62 310.00,332.60 C325.07,332.58 338.85,332.33 355.00,332.60 C371.15,332.87 387.57,333.62 406.90,334.20 C426.23,334.78 460.32,335.78 471.00,336.10" stroke="#ff0000" stroke-width="3.00" stroke-linecap="round"/>
<path id="g_sol" d="M109.40,306.40 C111.48,306.95 118.10,308.70 121.90,309.70 C125.70,310.70 129.10,311.37 132.20,312.40 C135.30,313.43 137.90,314.10 140.50,315.90 C143.10,317.70 145.88,321.38 147.80,323.20 C149.72,325.02 150.80,326.08 152.00,326.80 C153.20,327.52 153.80,327.75 155.00,327.50 C156.20,327.25 157.53,326.18 159.20,325.30 C160.87,324.42 163.27,322.90 165.00,322.20 C166.73,321.50 168.22,321.28 169.60,321.10 C170.98,320.92 170.62,320.82 173.30,321.10 C175.98,321.38 180.17,322.03 185.70,322.80 C191.23,323.57 199.58,324.95 206.50,325.70 C213.42,326.45 217.52,327.03 227.20,327.30 C236.88,327.57 252.22,327.30 264.60,327.30 C276.98,327.30 290.17,327.18 301.50,327.30 C312.83,327.42 323.35,327.85 332.60,328.00 C341.85,328.15 348.95,327.98 357.00,328.20 C365.05,328.42 372.58,328.78 380.90,329.30 C389.22,329.82 398.25,330.65 406.90,331.30 C415.55,331.95 422.12,332.53 432.80,333.20 C443.48,333.87 464.63,334.95 471.00,335.30" stroke="#00ff00" stroke-width="3.00" stroke-linecap="round"/>
<path id="b_sol" d="M101.70,277.30 C103.33,278.08 108.13,280.33 111.50,282.00 C114.87,283.67 118.45,285.45 121.90,287.30 C125.35,289.15 128.75,291.52 132.20,293.10 C135.65,294.68 139.13,296.13 142.60,296.80 C146.07,297.47 150.02,296.67 153.00,297.10 C155.98,297.53 158.50,298.63 160.50,299.40 C162.50,300.17 163.48,300.95 165.00,301.70 C166.52,302.45 167.53,303.03 169.60,303.90 C171.67,304.77 172.98,305.68 177.40,306.90 C181.82,308.12 189.52,309.93 196.10,311.20 C202.68,312.47 211.72,313.78 216.90,314.50 C222.08,315.22 222.02,315.33 227.20,315.50 C232.38,315.67 241.77,315.40 248.00,315.50 C254.23,315.60 257.42,315.93 264.60,316.10 C271.78,316.27 283.22,316.18 291.10,316.50 C298.98,316.82 304.98,317.40 311.90,318.00 C318.82,318.60 325.08,319.40 332.60,320.10 C340.12,320.80 348.95,321.32 357.00,322.20 C365.05,323.08 372.58,324.30 380.90,325.40 C389.22,326.50 398.25,327.85 406.90,328.80 C415.55,329.75 422.12,330.23 432.80,331.10 C443.48,331.97 464.63,333.52 471.00,334.00" stroke="#0000ff" stroke-width="3.00" stroke-linecap="round"/>
</g>
<path d="M336.8,42.1 H363.9" stroke="#000" stroke-width="2.5"/>
<path d="M336.8,65.5 H344.4 M346.2,65.5 H354.6 M356.2,65.5 H363.9" stroke="#000" stroke-width="2.5"/>
<text id="t_exp" x="370.6" y="49.7" font-size="17.5" letter-spacing="0.15">Experiment</text>
<text id="t_sim" x="370.9" y="72.2" font-size="17.5" letter-spacing="0.15">Simulation</text>
<text x="39.71" y="22.60" font-size="16.30" style="fill:#000" xml:space="preserve">200</text>
<path transform="translate(39.71,102.50) scale(0.00796,-0.00796)" d="M763,0 H583 V1147 C540,1106 483,1065 413,1024 C343,983 280,952 224,932 V1106 C324,1153 412,1210 487,1277 C562,1344 615,1409 646,1472 H763 Z" fill="#000"/><text x="48.77" y="102.50" font-size="16.30" style="fill:#000" xml:space="preserve">50</text>
<path transform="translate(39.71,182.30) scale(0.00796,-0.00796)" d="M763,0 H583 V1147 C540,1106 483,1065 413,1024 C343,983 280,952 224,932 V1106 C324,1153 412,1210 487,1277 C562,1344 615,1409 646,1472 H763 Z" fill="#000"/><text x="48.77" y="182.30" font-size="16.30" style="fill:#000" xml:space="preserve">00</text>
<text x="48.77" y="262.30" font-size="16.30" style="fill:#000" xml:space="preserve">50</text>
<text x="57.84" y="341.60" font-size="16.30" style="fill:#000" xml:space="preserve">0</text>
<text x="57.54" y="356.70" font-size="16.30" style="fill:#000" xml:space="preserve">0.05</text>
<text x="141.17" y="356.60" font-size="16.30" style="fill:#000" xml:space="preserve">0.</text><path transform="translate(154.77,356.60) scale(0.00796,-0.00796)" d="M763,0 H583 V1147 C540,1106 483,1065 413,1024 C343,983 280,952 224,932 V1106 C324,1153 412,1210 487,1277 C562,1344 615,1409 646,1472 H763 Z" fill="#000"/>
<path transform="translate(345.77,356.50) scale(0.00796,-0.00796)" d="M763,0 H583 V1147 C540,1106 483,1065 413,1024 C343,983 280,952 224,932 V1106 C324,1153 412,1210 487,1277 C562,1344 615,1409 646,1472 H763 Z" fill="#000"/>
<text x="465.67" y="357.20" font-size="16.30" style="fill:#000" xml:space="preserve">4</text>
<text id="xt" x="253.2" y="384.6" font-size="17.2"><tspan font-style="italic">T</tspan> (K)</text>
<g id="yt" transform="rotate(-90)">
<g transform="translate(-222.1,29.2) scale(1.1,1)"><text x="0" y="0" font-size="18.6" font-style="italic" style="font-family:'Liberation Serif',serif">α</text></g>
<path d="M-210.2,26.1 V36 M-207.6,26.1 V36" stroke="#999" stroke-width="1.3" fill="none"/>
<text x="-201.2" y="29.2" font-size="17.0">(</text>
<path transform="translate(-194.00,29.20) scale(0.00830,-0.00830)" d="M763,0 H583 V1147 C540,1106 483,1065 413,1024 C343,983 280,952 224,932 V1106 C324,1153 412,1210 487,1277 C562,1344 615,1409 646,1472 H763 Z" fill="#000"/>
<text x="-185.9" y="29.2" font-size="17.0">0</text>
<text x="-175.3" y="19.8" font-size="10">-</text>
<text x="-171.6" y="19.8" font-size="10">6</text>
<text x="-160.8" y="29.2" font-size="17.0">K</text>
<text x="-147.8" y="19.8" font-size="10">-</text>
<path transform="translate(-144.20,19.80) scale(0.00488,-0.00488)" d="M763,0 H583 V1147 C540,1106 483,1065 413,1024 C343,983 280,952 224,932 V1106 C324,1153 412,1210 487,1277 C562,1344 615,1409 646,1472 H763 Z" fill="#000"/>
<text x="-138.2" y="29.2" font-size="17.0">)</text>
</g>
<text id="a1" x="169.0" y="52.5" font-size="16.4" font-style="italic">B</text>
<path d="M184.6,46.9 H192.6 M184.6,50.6 H192.6" stroke="#000" stroke-width="1.3" fill="none"/>
<path transform="translate(198.63,52.50) scale(0.00801,-0.00801)" d="M763,0 H583 V1147 C540,1106 483,1065 413,1024 C343,983 280,952 224,932 V1106 C324,1153 412,1210 487,1277 C562,1344 615,1409 646,1472 H763 Z" fill="#000"/><text x="212.31" y="52.50" font-size="16.40" style="fill:#000" xml:space="preserve">T</text>
<text id="a2" x="180.6" y="108.3" letter-spacing="0.5" font-size="16.4" style="fill:#ff0000">2 T</text>
<text id="a3" x="221.2" y="166.0" letter-spacing="0.2" font-size="16.4" style="fill:#00ff00">3 T</text>
<text id="a4" x="295.4" y="246.0" letter-spacing="0.4" font-size="16.4" style="fill:#0000ff">4 T</text>
<text id="b1" x="378.7" y="270.9" font-size="17.5" font-style="italic">B</text>
<path d="M397.05,258.3 V274.8 M401.6,258.3 V274.8 M397.05,283.2 V299.7 M401.6,283.2 V299.7" stroke="#000" stroke-width="1.3" fill="none"/>
<text x="409.00" y="270.90" font-size="17.50" style="fill:#000" xml:space="preserve">[00</text><path transform="translate(433.33,270.90) scale(0.00854,-0.00854)" d="M763,0 H583 V1147 C540,1106 483,1065 413,1024 C343,983 280,952 224,932 V1106 C324,1153 412,1210 487,1277 C562,1344 615,1409 646,1472 H763 Z" fill="#000"/><text x="443.06" y="270.90" font-size="17.50" style="fill:#000" xml:space="preserve">]</text>
<g transform="translate(373.6,295.9) scale(1.1,1)"><text id="b2" x="0" y="0" font-size="18.6" font-style="italic" style="font-family:'Liberation Serif',serif">α</text></g>
<path d="M385.0,292.1 V302.7 M387.9,292.1 V302.7" stroke="#999" stroke-width="1.3" fill="none"/>
<text x="409.00" y="295.80" font-size="17.50" style="fill:#000" xml:space="preserve">[00</text><path transform="translate(433.33,295.80) scale(0.00854,-0.00854)" d="M763,0 H583 V1147 C540,1106 483,1065 413,1024 C343,983 280,952 224,932 V1106 C324,1153 412,1210 487,1277 C562,1344 615,1409 646,1472 H763 Z" fill="#000"/><text x="443.06" y="295.80" font-size="17.50" style="fill:#000" xml:space="preserve">]</text>
</svg></body></html>
